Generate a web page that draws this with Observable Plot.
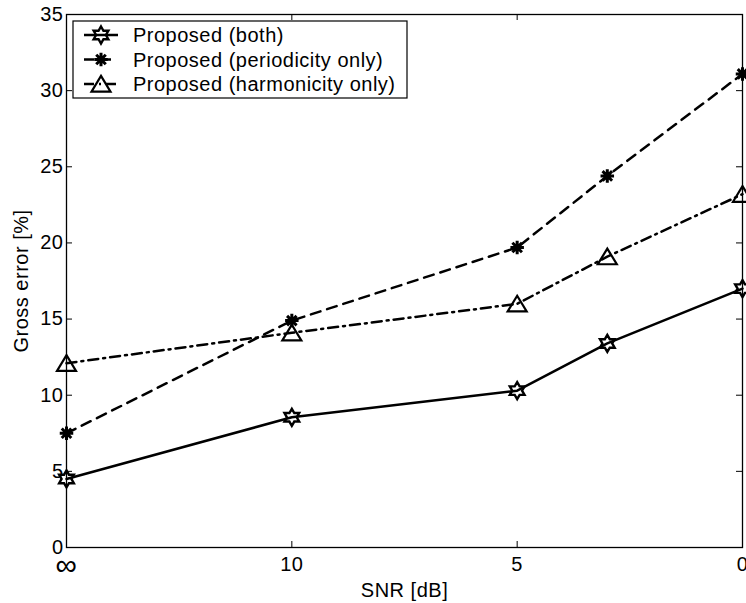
<!DOCTYPE html>
<html><head><meta charset="utf-8">
<script src="https://cdn.jsdelivr.net/npm/d3@7"></script>
<script src="https://cdn.jsdelivr.net/npm/@observablehq/plot@0.6"></script>
<style>body{margin:0;background:#fff} #chart{width:746px;height:603px}</style>
</head><body><div id="chart"></div>
<script>
// SNR conditions and their position along the (ordinal-like) axis
const snrLabels = ["∞", "10", "5", "3", "0"];
const snrPos = [0, 1, 2, 2.4, 3];
const xTickPos = [0, 1, 2, 3];
const xTickLabels = ["∞", "10", "5", "0"];
const yTicks = [0, 5, 10, 15, 20, 25, 30, 35];
// Gross error [%]
const both = [4.5, 8.55, 10.3, 13.4, 17.0];
const periodicity = [7.5, 14.9, 19.7, 24.4, 31.1];
const harmonicity = [12.1, 14.1, 16.0, 19.1, 23.2];
const seriesNames = ["Proposed (both)", "Proposed (periodicity only)", "Proposed (harmonicity only)"];

// custom MATLAB-like marker symbols
const hexagram = {draw(ctx, size) {
  const r = Math.sqrt(size / Math.PI), ri = r / Math.sqrt(3);
  for (let k = 0; k < 12; k++) {
    const a = -Math.PI / 2 + k * Math.PI / 6, rr = k % 2 ? ri : r;
    const x = rr * Math.cos(a), y = rr * Math.sin(a);
    k ? ctx.lineTo(x, y) : ctx.moveTo(x, y);
  }
  ctx.closePath();
}};
const asterisk = {draw(ctx, size) {
  const r = Math.sqrt(size / Math.PI) * 0.75;
  for (let k = 0; k < 4; k++) {
    const a = k * Math.PI / 4, c = Math.cos(a) * r, s = Math.sin(a) * r;
    ctx.moveTo(-c, -s); ctx.lineTo(c, s);
  }
}};
const triangle = {draw(ctx, size) {
  const r = Math.sqrt(size / Math.PI);
  ctx.moveTo(0, -0.85 * r); ctx.lineTo(r, 0.8 * r); ctx.lineTo(-r, 0.8 * r); ctx.closePath();
}};

const seriesVals = [both, periodicity, harmonicity];
const symbols = [hexagram, asterisk, triangle];
const symR = [8.5, 9, 9.5];
const symW = [2.4, 3, 2.2];
const dashes = [null, "10,7", "10,5,2,5"];
const rows = [];
seriesVals.forEach((vals, s) => vals.forEach((v, i) => rows.push({series: seriesNames[s], s, snr: snrLabels[i], x: snrPos[i], y: v})));

const W = 746, H = 603, mL = 66, mR = 4, mT = 14, mB = 56;
const innerW = W - mL - mR, innerH = H - mT - mB, tk = 6;
const FONT = "'Liberation Sans', Arial, Helvetica, sans-serif";
const FS = 20;

const marks = [
  Plot.frame({stroke: "black", strokeWidth: 1.3}),
  Plot.tickX(xTickPos, {x: d => d, insetTop: innerH - tk, stroke: "black", strokeWidth: 1}),
  Plot.tickX(xTickPos, {x: d => d, insetBottom: innerH - tk, stroke: "black", strokeWidth: 1}),
  Plot.tickY(yTicks, {y: d => d, insetRight: innerW - tk, stroke: "black", strokeWidth: 1}),
  Plot.tickY(yTicks, {y: d => d, insetLeft: innerW - tk, stroke: "black", strokeWidth: 1}),
  Plot.axisX(xTickPos, {tickSize: 0, tickPadding: 9, tickFormat: d => xTickLabels[xTickPos.indexOf(d)],
    label: "SNR [dB]", labelAnchor: "center", labelArrow: "none", labelOffset: 49, fill: "black", fontSize: FS}),
  Plot.axisY(yTicks, {tickSize: 0, tickPadding: 3, label: "Gross error [%]", labelAnchor: "center",
    labelArrow: "none", labelOffset: 53, fill: "black", fontSize: FS})
];
seriesNames.forEach((name, s) => {
  const data = rows.filter(d => d.s === s);
  marks.push(Plot.line(data, {x: "x", y: "y", stroke: "black", strokeWidth: 2.5,
    strokeDasharray: dashes[s] || undefined}));
  marks.push(Plot.dot(data, {x: "x", y: "y", symbol: () => symbols[s], r: symR[s], fill: "none", stroke: "black", strokeWidth: symW[s]}));
});

const chart = Plot.plot({
  width: W, height: H, marginLeft: mL, marginRight: mR, marginTop: mT, marginBottom: mB,
  style: {fontFamily: FONT, fontSize: FS + "px", letterSpacing: "0.5px", color: "black", background: "white", overflow: "visible"},
  x: {domain: [0, 3], axis: null},
  y: {domain: [0, 35], axis: null},
  symbol: {type: "identity"},
  marks
});

const svg = d3.select(chart);
// enlarge the infinity glyph as in the reference
svg.selectAll("text").filter(function() { return this.textContent === "∞"; })
  .attr("font-size", 30).attr("dy", "-0.1em");

// legend inside the axes (upper left)
const lg = svg.append("g").attr("font-size", FS).attr("font-family", FONT).attr("text-anchor", "start");
const bx = 73, by = 21, bw = 334, bh = 77;
lg.append("rect").attr("x", bx).attr("y", by).attr("width", bw).attr("height", bh)
  .attr("fill", "white").attr("stroke", "black").attr("stroke-width", 1.2);
seriesNames.forEach((name, s) => {
  const cy = by + 14 + s * 24.5;
  lg.append("line").attr("x1", bx + 11).attr("x2", bx + 45).attr("y1", cy).attr("y2", cy)
    .attr("stroke", "black").attr("stroke-width", 2.5).attr("stroke-dasharray", dashes[s]);
  lg.append("path").attr("transform", `translate(${bx + 28},${cy})`)
    .attr("d", d3.symbol(symbols[s], Math.PI * symR[s] * symR[s])())
    .attr("fill", "none").attr("stroke", "black").attr("stroke-width", symW[s]);
  lg.append("text").attr("x", bx + 60).attr("y", cy).attr("dy", "0.35em")
    .attr("text-anchor", "start").attr("fill", "black").text(name);
});

document.getElementById("chart").appendChild(chart);
</script></body></html>
